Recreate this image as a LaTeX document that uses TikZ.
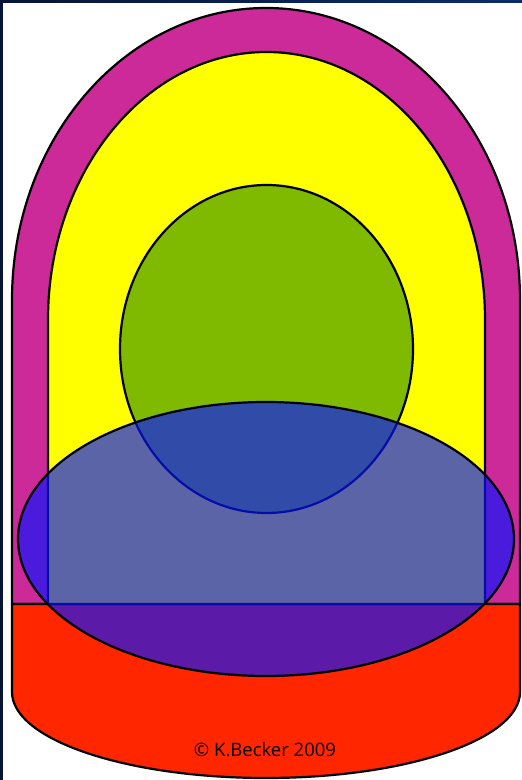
\documentclass[tikz,border=0pt]{standalone}
\usepackage{fontspec}
\setmainfont{Open Sans}
\definecolor{navy}{HTML}{061536}
\definecolor{navyR}{HTML}{0B2C6C}
\definecolor{magentaF}{HTML}{CC2A99}
\definecolor{yellowF}{HTML}{FFFF00}
\definecolor{greenF}{HTML}{7FBA00}
\definecolor{redF}{HTML}{FF2600}
\definecolor{blueF}{HTML}{0814FF}
\tikzset{
  outline/.style={draw=black, line width=2.2pt, line join=round},
  overlay/.style={outline, fill=blueF, fill opacity=0.66},
}
\begin{document}
\begin{tikzpicture}[x=1pt,y=1pt]
\useasboundingbox (0,0) rectangle (522,780);
% frame
\fill[navy] (0,0) rectangle (522,780);
\shade[left color=navy, right color=navyR] (0,776) rectangle (522,780);
\fill[white] (3,0) rectangle (522,777);
% outer magenta arch
\path[outline, fill=magentaF] (12,176) -- (12,480)
  arc[start angle=180, end angle=0, x radius=254, y radius=292] -- (520,176) -- cycle;
% red base
\path[outline, fill=redF] (12,176) -- (12,88)
  arc[start angle=180, end angle=360, x radius=254, y radius=86] -- (520,176) -- cycle;
% yellow inner arch
\path[outline, fill=yellowF] (48,176) -- (48,460)
  arc[start angle=180, end angle=0, x radius=218.5, y radius=268] -- (485,176) -- cycle;
% green ellipse
\path[outline, fill=greenF] (266.5,431) ellipse[x radius=146.5, y radius=164];
% blue translucent ellipse
\path[overlay] (266,241) ellipse[x radius=248, y radius=137];
% copyright
\node[font=\fontsize{18.5}{22}\selectfont, inner sep=0pt] (copy) at (265,30) {© K.Becker 2009};
\end{tikzpicture}
\end{document}
